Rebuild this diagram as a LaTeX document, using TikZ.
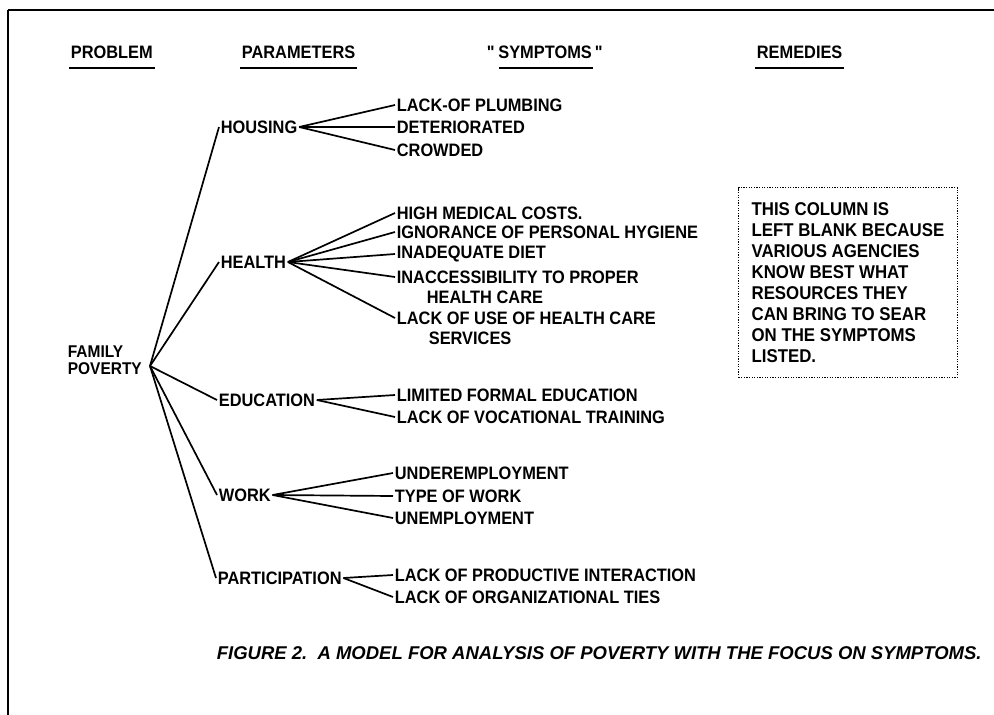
\documentclass[tikz,border=0pt]{standalone}
\usepackage{fontspec}
\setmainfont{Liberation Sans}[FakeStretch=0.91]
\newfontfamily\capfont{Liberation Sans}

\begin{document}
\begin{tikzpicture}
  [x=1pt,y=-1pt,line width=1.7pt,
   every node/.style={anchor=west,inner sep=1pt,font=\fontsize{18}{21}\selectfont\bfseries}]
  \useasboundingbox (0,0) rectangle (994,715);
  \draw (8,10) -- (994,10);
  \draw (8,10) -- (8,715);

  % column heads
  \node (H_1) at (69,52)  {PROBLEM};
  \node (H_2) at (240,52) {PARAMETERS};
  \node (H_3) at (485,52) {\textquotedbl\,SYMPTOMS\,\textquotedbl};
  \node (H_4) at (755,52) {REMEDIES};
  \foreach \h in {H_1,H_2,H_4}
    \draw ([yshift=-8pt]\h.south west) -- ([yshift=-8pt]\h.south east);
  \draw ([xshift=14pt,yshift=-8pt]H_3.south west) -- ([xshift=-12pt,yshift=-8pt]H_3.south east);

  % problem
  \node (F_1) [align=left,font=\fontsize{17}{17}\selectfont\bfseries] at (66,360) {FAMILY\\POVERTY};
  \coordinate (F_0) at (150,366);

  % parameters
  \node (P_1) at (219,127) {HOUSING};
  \node (P_2) at (219,262) {HEALTH};
  \node (P_3) at (217,400) {EDUCATION};
  \node (P_4) at (217,495) {WORK};
  \node (P_5) at (216,578) {PARTICIPATION};
  \foreach \p in {P_1,P_2,P_3,P_4,P_5}
    \draw (F_0) -- (\p.west);

  % symptoms
  \node (S_1)  at (395,105) {LACK-OF PLUMBING};
  \node (S_2)  at (395,127) {DETERIORATED};
  \node (S_3)  at (395,150) {CROWDED};
  \node (S_4)  at (395,213) {HIGH MEDICAL COSTS.};
  \node (S_5)  at (395,232) {IGNORANCE OF PERSONAL HYGIENE};
  \node (S_6)  at (395,254) {INADEQUATE DIET};
  \node (S_7)  at (395,277) {INACCESSIBILITY TO PROPER};
  \node (S_7b) at (425,297) {HEALTH CARE};
  \node (S_8)  at (395,318) {LACK OF USE OF HEALTH CARE};
  \node (S_8b) at (427,338) {SERVICES};
  \node (S_9)  at (395,395) {LIMITED FORMAL EDUCATION};
  \node (S_10) at (395,417) {LACK OF VOCATIONAL TRAINING};
  \node (S_11) at (393,473) {UNDEREMPLOYMENT};
  \node (S_12) at (393,496) {TYPE OF WORK};
  \node (S_13) at (393,518) {UNEMPLOYMENT};
  \node (S_14) at (393,575) {LACK OF PRODUCTIVE INTERACTION};
  \node (S_15) at (393,597) {LACK OF ORGANIZATIONAL TIES};
  \foreach \from/\to in {P_1/S_1,P_1/S_2,P_1/S_3,P_2/S_4,P_2/S_5,P_2/S_6,P_2/S_7,P_2/S_8,
                         P_3/S_9,P_3/S_10,P_4/S_11,P_4/S_12,P_4/S_13,P_5/S_14,P_5/S_15}
    \draw (\from.east) -- (\to.west);

  % remedies
  \node (R_1) [draw,anchor=north west,align=left,inner xsep=13pt,inner ysep=15pt,
               font=\fontsize{18.5}{21}\selectfont\bfseries,
               line width=1.2pt,dash pattern=on 1.2pt off 1.4pt] at (738,187)
    {THIS COLUMN IS\\LEFT BLANK BECAUSE\\VARIOUS AGENCIES\\KNOW BEST WHAT\\RESOURCES THEY\\CAN BRING TO SEAR\\ON THE SYMPTOMS\\LISTED.};

  % caption
  \node (C_1) [font=\fontsize{18.5}{21}\selectfont\capfont\bfseries\itshape] at (215,653)
    {FIGURE 2.\ \ A MODEL FOR ANALYSIS OF POVERTY WITH THE FOCUS ON SYMPTOMS.};
\end{tikzpicture}
\end{document}
